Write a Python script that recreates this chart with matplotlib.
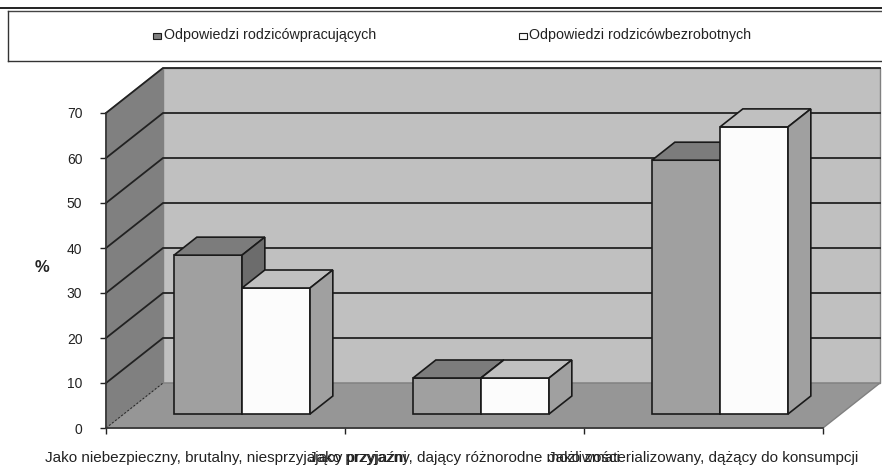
import matplotlib
matplotlib.use("Agg")
import matplotlib.pyplot as plt
from matplotlib.patches import Polygon, Rectangle

W, H = 882, 466

categories = ["Jako niebezpieczny, brutalny, niesprzyjający przyjaźni",
              "Jako przyjazny, dający różnorodne możliwości",
              "Jako zmaterializowany, dążący do konsumpcji"]
series_names = ["Odpowiedzi rodzicówpracujących", "Odpowiedzi rodzicówbezrobotnych"]
working = [35.3, 8, 56.4]
unemployed = [28, 8, 63.8]
yticks = [0, 10, 20, 30, 40, 50, 60, 70]

# colours of the faces (front, top, side) for each series
FACES = [("#a0a0a0", "#7c7c7c", "#6c6c6c"), ("#fcfcfc", "#c0c0c0", "#a0a0a0")]
EDGE = "#1a1a1a"
FONT = "Liberation Sans"

# depth of the box: 57 px right, 45 px up (45 px is 10 units on the y axis)
DX = 57 / 239.0
DY = 10.0
BAR_W = 68 / 239.0
BAR_SHIFT = -1.2 / 239.0
D_FRONT = 14 / 45.0
D_BACK = 32 / 45.0


def px_axes(fig, x0, y0, x1, y1):
    # y0 is the bottom of the axes in image pixels, counted from the top
    return fig.add_axes([x0 / W, 1 - y0 / H, (x1 - x0) / W, (y0 - y1) / H])


def proj(x, y, d):
    return (x + d * DX, y + d * DY)


def face(ax, pts, color, ec=EDGE, lw=1.2, z=3):
    ax.add_patch(Polygon(pts, closed=True, fc=color, ec=ec, lw=lw, zorder=z,
                         joinstyle="miter", clip_on=False))


def draw_bar(ax, left, value, cols):
    right = left + BAR_W
    front, top, side = cols
    face(ax, [proj(left, 0, D_FRONT), proj(right, 0, D_FRONT),
              proj(right, value, D_FRONT), proj(left, value, D_FRONT)], front)
    face(ax, [proj(left, value, D_FRONT), proj(right, value, D_FRONT),
              proj(right, value, D_BACK), proj(left, value, D_BACK)], top)
    face(ax, [proj(right, 0, D_FRONT), proj(right, 0, D_BACK),
              proj(right, value, D_BACK), proj(right, value, D_FRONT)], side)


fig = plt.figure(figsize=(W / 100, H / 100), dpi=100, facecolor="white")

# frame and legend, in image pixels
bg = fig.add_axes([0, 0, 1, 1])
bg.set_xlim(0, W)
bg.set_ylim(H, 0)
bg.axis("off")
bg.plot([0, W], [7.5, 7.5], color="#111111", lw=1.3)
bg.plot([8, W], [11, 11], color="#444444", lw=1.0)
bg.plot([8, W], [61, 61], color="#333333", lw=1.0)
bg.plot([8, 8], [11, 61], color="#333333", lw=1.0)
bg.add_patch(Rectangle((153, 33), 8, 6, fc="#808080", ec=EDGE, lw=0.8))
bg.add_patch(Rectangle((519, 33), 8, 6, fc=FACES[1][0], ec=EDGE, lw=0.8))
bg.text(164.5, 35.5, series_names[0], family=FONT, fontsize=10.3,
        va="center", color="#222222")
bg.text(529, 35.5, series_names[1], family=FONT, fontsize=10.3,
        va="center", color="#222222")

ax = px_axes(fig, 106, 428, 823, 113)
ax.set_xlim(0, 3)
ax.set_ylim(0, 70)
ax.patch.set_visible(False)
for s in ax.spines.values():
    s.set_visible(False)

# back wall, side wall, floor
n = len(categories)
face(ax, [proj(0, 0, 1), proj(n, 0, 1), proj(n, 70, 1), proj(0, 70, 1)], "#c0c0c0",
     ec="#808080", lw=1.0, z=1)
face(ax, [proj(0, 0, 0), proj(0, 0, 1), proj(0, 70, 1), proj(0, 70, 0)], "#808080",
     ec="#808080", lw=1.0, z=1)
face(ax, [proj(0, 0, 0), proj(n, 0, 0), proj(n, 0, 1), proj(0, 0, 1)], "#969696",
     ec="#808080", lw=1.0, z=1)

for t in yticks[1:]:
    a, b = proj(0, t, 0), proj(0, t, 1)
    c = proj(n, t, 1)
    ax.plot([a[0], b[0], c[0]], [a[1], b[1], c[1]], color="#222222", lw=1.3, zorder=2,
            clip_on=False, solid_joinstyle="miter")
ax.plot([0, DX], [0, DY], color="#222222", lw=0.7, ls=(0, (2, 2)), zorder=2, clip_on=False)

ax.plot([0, 0], [0, 70], color="#333333", lw=1.2, zorder=4, clip_on=False)
ax.plot([0, n], [0, 0], color="#333333", lw=1.2, zorder=4, clip_on=False)

for i in range(n):
    draw_bar(ax, i + 0.5 - BAR_W + BAR_SHIFT, working[i], FACES[0])
    draw_bar(ax, i + 0.5 + BAR_SHIFT, unemployed[i], FACES[1])

ax.set_yticks(yticks)
ax.set_xticks(range(n + 1))
ax.set_xticklabels([])
ax.tick_params(axis="both", length=4, width=1, color="#222222")
ax.tick_params(axis="y", labelsize=10, labelcolor="#222222", pad=13)
for lab in ax.get_yticklabels():
    lab.set_family(FONT)

for i, cat in enumerate(categories):
    ax.annotate(cat, (i + 0.5, 0), xytext=(0, -30), textcoords="offset pixels",
                ha="center", va="center", family=FONT, fontsize=11, color="#222222",
                annotation_clip=False)

bg.text(42, 267, "%", family=FONT, fontsize=12, fontweight="bold", ha="center",
        va="center", color="#222222")

fig.savefig("out.png", dpi=100)
